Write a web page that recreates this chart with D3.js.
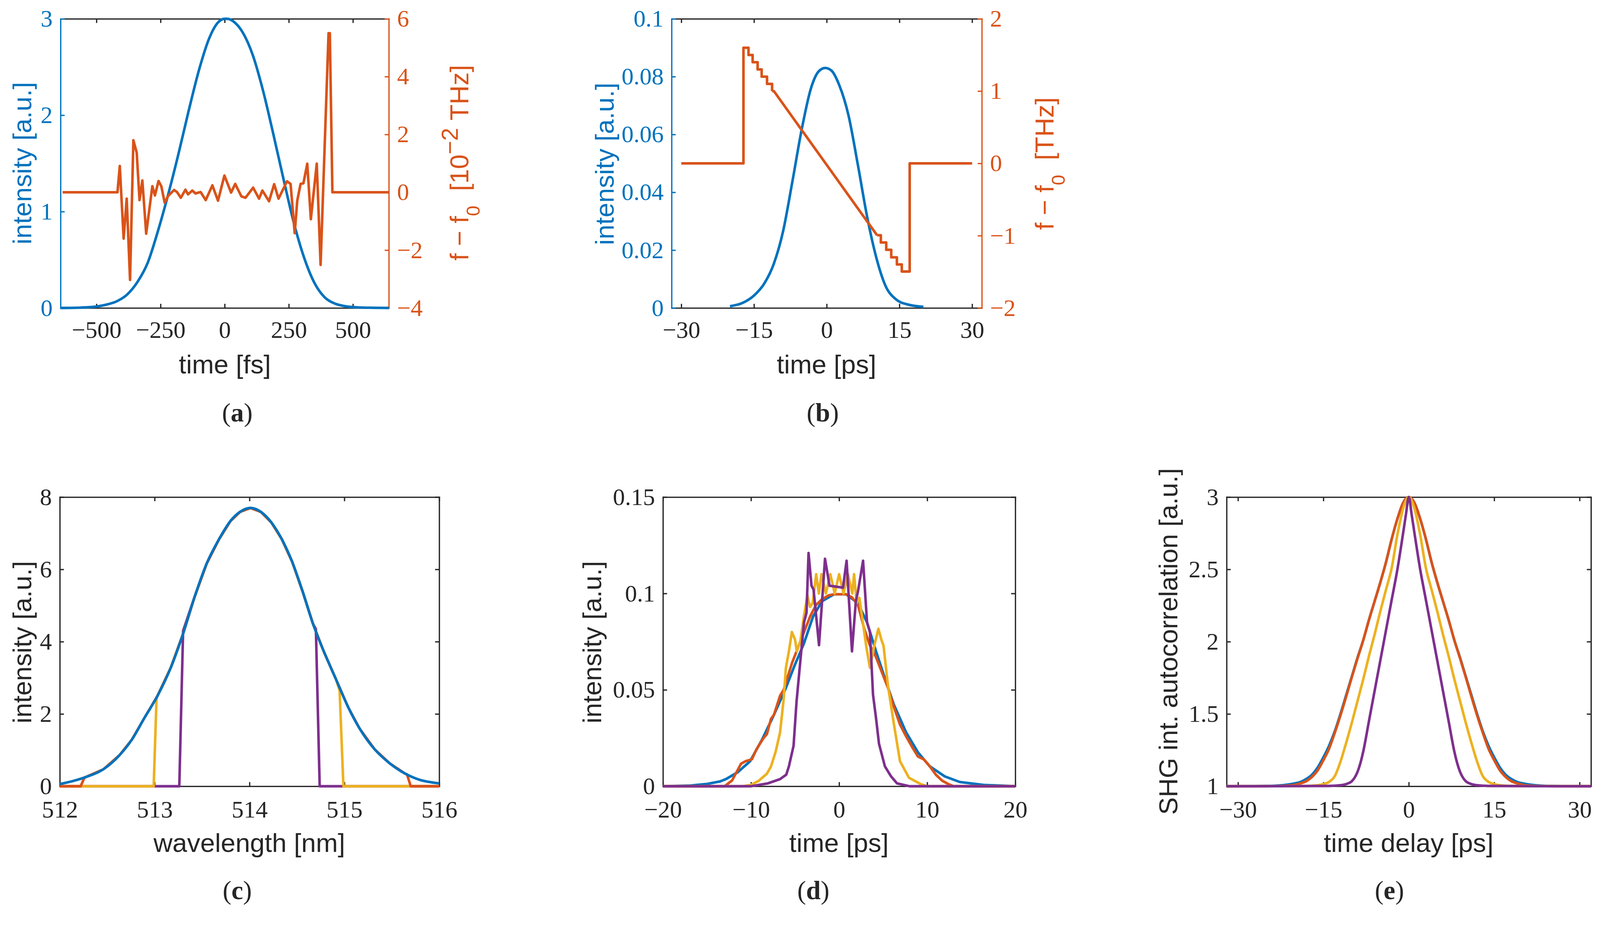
<!DOCTYPE html>
<html><head><meta charset="utf-8">
<script src="https://cdn.jsdelivr.net/npm/d3@7"></script>
<style>html,body{margin:0;padding:0;background:#fff;overflow:hidden;width:100%;height:100%}svg{display:block;width:100vw;height:100vh}</style>
</head><body>
<svg id="chart" viewBox="0 0 4255 2427" preserveAspectRatio="xMinYMin meet"></svg>
<script>
// ---------------- DATA ----------------
// (a) intensity [a.u.] vs time [fs]
const aIntensity = [[-640,0],[-560,0.004],[-500,0.015],[-460,0.035],[-420,0.07],[-380,0.14],[-340,0.27],[-300,0.47],[-260,0.80],[-220,1.18],[-180,1.60],[-140,2.05],[-100,2.47],[-60,2.80],[-30,2.95],[0,3.0],[10,3.0],[40,2.96],[70,2.86],[110,2.62],[150,2.25],[190,1.80],[230,1.33],[270,0.88],[310,0.52],[350,0.26],[390,0.11],[430,0.045],[470,0.018],[520,0.006],[580,0.002],[640,0]];
// (a) f - f0 [1e-2 THz]
const aFreq = [[-632,0],[-418,0],[-409,0.91],[-394,-1.6],[-382,-0.22],[-369,-3.03],[-356,1.8],[-343,1.37],[-332,-0.27],[-321,0.41],[-306,-1.43],[-282,0.21],[-272,-0.11],[-258,0.39],[-247,0.21],[-234,-0.36],[-220,-0.12],[-197,0.08],[-186,0.01],[-171,-0.19],[-153,0.09],[-143,-0.07],[-126,0.06],[-114,-0.04],[-94,0.01],[-74,-0.27],[-48,0.24],[-26,-0.29],[-1,0.58],[25,-0.01],[41,0.29],[65,-0.14],[81,-0.19],[111,0.16],[134,-0.22],[147,0.06],[173,-0.31],[193,0.28],[210,-0.22],[243,0.38],[257,0.29],[273,-1.41],[283,-0.29],[296,0.29],[307,0.31],[322,0.99],[336,-0.93],[359,0.99],[374,-2.51],[405,5.5],[410,5.5],[420,0],[640,0]];
const aXTicks = [-500,-250,0,250,500];
const aXLabels = ["−500","−250","0","250","500"];
const aYTicks = [0,1,2,3];
const aYLabels = ["0","1","2","3"];
const aY2Ticks = [-4,-2,0,2,4,6];
const aY2Labels = ["−4","−2","0","2","4","6"];

// (b) intensity vs time [ps]
const bIntensity = [[-19.96,0.0006],[-17.4,0.0017],[-14.8,0.0046],[-12.9,0.0084],[-10.95,0.0151],[-9.0,0.0265],[-7.08,0.0437],[-5.15,0.0618],[-3.22,0.0761],[-1.61,0.0819],[-0.32,0.0830],[0.97,0.0821],[2.58,0.0771],[4.5,0.0666],[6.44,0.0494],[8.37,0.0313],[10.3,0.0170],[12.2,0.0074],[14.2,0.0031],[16.7,0.0012],[19.96,0.0004]];
// (b) f - f0 [THz]: staircase, linear chirp, staircase
const bFreqStepsLeft = [[-30,0],[-17.17,1.60],[-16.13,1.50],[-15.28,1.40],[-14.25,1.30],[-13.42,1.20],[-12.31,1.10],[-11.27,1.00]];
const bFreqLinear = [[-11.27,1.00],[-10.9,1.00],[10.39,-0.994]];
const bFreqStepsRight = [[10.39,-0.994],[11.17,-1.094],[12.28,-1.195],[13.31,-1.299],[14.48,-1.398],[15.49,-1.496],[17.12,0],[30,0]];
const bXTicks = [-30,-15,0,15,30];
const bXLabels = ["−30","−15","0","15","30"];
const bYTicks = [0,0.02,0.04,0.06,0.08,0.1];
const bYLabels = ["0","0.02","0.04","0.06","0.08","0.1"];
const bY2Ticks = [-2,-1,0,1,2];
const bY2Labels = ["−2","−1","0","1","2"];

// (c) spectra vs wavelength [nm]
const cBlue = [[512.0,0.06],[512.16,0.16],[512.28,0.26],[512.46,0.47],[512.63,0.86],[512.76,1.29],[512.89,1.88],[513.03,2.5],[513.17,3.28],[513.30,4.22],[513.42,5.23],[513.55,6.17],[513.68,6.84],[513.80,7.34],[513.90,7.59],[514.01,7.70],[514.12,7.59],[514.23,7.30],[514.34,6.84],[514.45,6.21],[514.56,5.39],[514.67,4.49],[514.78,3.75],[514.91,2.97],[515.04,2.19],[515.16,1.6],[515.32,1.02],[515.48,0.63],[515.64,0.35],[515.79,0.18],[516.0,0.08]];
const cOrange = [[512.0,0],[512.22,0],[512.26,0.24],[512.46,0.47],[512.63,0.86],[512.76,1.29],[512.89,1.88],[513.03,2.5],[513.17,3.28],[513.30,4.22],[513.42,5.23],[513.55,6.17],[513.68,6.84],[513.80,7.34],[513.90,7.59],[514.01,7.70],[514.12,7.59],[514.23,7.30],[514.34,6.84],[514.45,6.21],[514.56,5.39],[514.67,4.49],[514.78,3.75],[514.91,2.97],[515.04,2.19],[515.16,1.6],[515.32,1.02],[515.48,0.63],[515.64,0.35],[515.66,0.33],[515.70,0],[516.0,0]];
const cYellow = [[512.0,0],[512.99,0],[513.02,2.45],[513.17,3.28],[513.30,4.22],[513.42,5.23],[513.55,6.17],[513.68,6.84],[513.80,7.34],[513.90,7.59],[514.01,7.70],[514.12,7.59],[514.23,7.30],[514.34,6.84],[514.45,6.21],[514.56,5.39],[514.67,4.49],[514.78,3.75],[514.91,2.97],[514.95,2.65],[514.99,0],[516.0,0]];
const cPurple = [[512.0,0],[513.26,0],[513.30,4.3],[513.42,5.23],[513.55,6.17],[513.68,6.84],[513.80,7.34],[513.90,7.59],[514.01,7.70],[514.12,7.59],[514.23,7.30],[514.34,6.84],[514.45,6.21],[514.56,5.39],[514.67,4.49],[514.70,4.35],[514.74,0],[516.0,0]];
const cXTicks = [512,513,514,515,516];
const cXLabels = ["512","513","514","515","516"];
const cYTicks = [0,2,4,6,8];
const cYLabels = ["0","2","4","6","8"];

// (d) intensity vs time [ps]
const dBlue = [[-20,0],[-17,0.0003],[-15,0.0012],[-13.5,0.0025],[-12.85,0.0037],[-11.5,0.0073],[-10.1,0.013],[-8.77,0.024],[-7.4,0.037],[-6.04,0.051],[-5.02,0.063],[-4.0,0.074],[-2.96,0.088],[-1.94,0.096],[-0.58,0.0996],[0.78,0.0996],[2.14,0.095],[3.17,0.085],[4.19,0.070],[5.2,0.056],[6.2,0.0425],[7.6,0.028],[8.95,0.0176],[10.3,0.0103],[12.0,0.0051],[13.7,0.0022],[16.4,0.0007],[20,0]];
const dOrange = [[-20,0],[-13.0,0],[-12.66,0.0012],[-12.15,0.003],[-11.13,0.0117],[-10.6,0.013],[-9.9,0.014],[-9.4,0.019],[-8.58,0.025],[-8.2,0.027],[-7.73,0.035],[-7.4,0.037],[-6.7,0.047],[-6.3,0.050],[-5.34,0.064],[-4.83,0.070],[-4.32,0.076],[-3.81,0.082],[-3.3,0.088],[-2.62,0.094],[-1.94,0.097],[-1.2,0.099],[-0.58,0.0996],[0.78,0.0996],[1.46,0.098],[2.14,0.094],[2.49,0.088],[2.83,0.082],[3.5,0.073],[4.19,0.067],[4.87,0.059],[5.55,0.051],[6.23,0.041],[6.91,0.032],[7.59,0.026],[8.27,0.0205],[8.95,0.0154],[9.63,0.0139],[10.3,0.0103],[11.0,0.0059],[11.7,0.0029],[12.36,0.0012],[13.0,0],[20,0]];
const dYellow = [[-20,0],[-11,0],[-10,0.0007],[-9.1,0.0029],[-8.2,0.0065],[-7.73,0.0103],[-7.2,0.018],[-6.7,0.028],[-6.3,0.045],[-6.04,0.0615],[-5.7,0.07],[-5.36,0.08],[-5.0,0.076],[-4.8,0.070],[-4.4,0.075],[-4.0,0.088],[-3.6,0.099],[-3.3,0.093],[-3.0,0.095],[-2.6,0.11],[-2.3,0.10],[-2.0,0.11],[-1.5,0.10],[-1.0,0.11],[-0.5,0.10],[0,0.11],[0.5,0.10],[1.0,0.11],[1.5,0.10],[1.7,0.11],[2.0,0.095],[2.3,0.0977],[2.7,0.085],[3.1,0.072],[3.5,0.0615],[4.0,0.073],[4.46,0.0817],[4.8,0.076],[5.04,0.073],[5.55,0.052],[6.23,0.032],[6.91,0.013],[7.93,0.0044],[9.3,0.001],[10,0],[20,0]];
const dPurple = [[-20,0],[-10,0],[-8.07,0.0015],[-6.7,0.0037],[-6.0,0.006],[-5.7,0.0103],[-5.17,0.021],[-4.83,0.044],[-4.32,0.069],[-3.98,0.085],[-3.7,0.09],[-3.47,0.121],[-3.13,0.104],[-2.9,0.102],[-2.28,0.0732],[-1.6,0.118],[-1.09,0.104],[0.44,0.103],[0.85,0.117],[1.46,0.070],[1.9,0.096],[2.14,0.101],[2.72,0.117],[3.17,0.085],[3.5,0.08],[3.85,0.0475],[4.2,0.035],[4.53,0.022],[5.2,0.0103],[5.9,0.0051],[6.57,0.0015],[8,0],[20,0]];
const dXTicks = [-20,-10,0,10,20];
const dXLabels = ["−20","−10","0","10","20"];
const dYTicks = [0,0.05,0.1,0.15];
const dYLabels = ["0","0.05","0.1","0.15"];

// (e) SHG intensity autocorrelation vs time delay [ps]
const eBlue = [[-32,1],[-25,1.002],[-22,1.008],[-20,1.02],[-19,1.03],[-18,1.05],[-17,1.08],[-16,1.13],[-15,1.2],[-14,1.28],[-13,1.38],[-12,1.5],[-11,1.63],[-10,1.76],[-9,1.89],[-8,2.01],[-7,2.15],[-6,2.28],[-5,2.41],[-4,2.55],[-3,2.71],[-2,2.85],[-1,2.96],[0,3],[1,2.96],[2,2.85],[3,2.71],[4,2.55],[5,2.41],[6,2.28],[7,2.15],[8,2.01],[9,1.89],[10,1.76],[11,1.63],[12,1.5],[13,1.38],[14,1.28],[15,1.2],[16,1.13],[17,1.08],[18,1.05],[19,1.03],[20,1.02],[22,1.008],[25,1.002],[32,1]];
const eOrange = [[-32,1],[-25,1.0],[-22,1.003],[-20,1.01],[-19,1.02],[-18,1.035],[-17,1.065],[-16,1.11],[-15,1.18],[-14,1.26],[-13,1.37],[-12,1.49],[-11,1.62],[-10,1.755],[-9,1.885],[-8,2.01],[-7,2.15],[-6,2.28],[-5,2.41],[-4,2.55],[-3,2.71],[-2,2.85],[-1,2.96],[0,3],[1,2.96],[2,2.85],[3,2.71],[4,2.55],[5,2.41],[6,2.28],[7,2.15],[8,2.01],[9,1.885],[10,1.755],[11,1.62],[12,1.49],[13,1.37],[14,1.26],[15,1.18],[16,1.11],[17,1.065],[18,1.035],[19,1.02],[20,1.01],[22,1.003],[25,1.0],[32,1]];
const eYellow = [[-32,1],[-18,1.002],[-16,1.007],[-15,1.015],[-14,1.03],[-13,1.07],[-12,1.17],[-11,1.3],[-10,1.44],[-9,1.59],[-8,1.74],[-7,1.9],[-6,2.05],[-5,2.21],[-4,2.36],[-3,2.51],[-2,2.74],[-1,2.92],[0,3],[1,2.92],[2,2.74],[3,2.51],[4,2.36],[5,2.21],[6,2.05],[7,1.9],[8,1.74],[9,1.59],[10,1.44],[11,1.3],[12,1.17],[13,1.07],[14,1.03],[15,1.015],[16,1.007],[18,1.002],[32,1]];
const ePurple = [[-32,1],[-14,1.002],[-12,1.007],[-11,1.015],[-10,1.035],[-9.5,1.06],[-9,1.1],[-8.5,1.16],[-8,1.24],[-7,1.45],[-6,1.66],[-5,1.87],[-4,2.08],[-3,2.29],[-2,2.5],[-1,2.75],[-0.5,2.88],[0,3],[0.5,2.88],[1,2.75],[2,2.5],[3,2.29],[4,2.08],[5,1.87],[6,1.66],[7,1.45],[8,1.24],[8.5,1.16],[9,1.1],[9.5,1.06],[10,1.035],[11,1.015],[12,1.007],[14,1.002],[32,1]];
const eXTicks = [-30,-15,0,15,30];
const eXLabels = ["−30","−15","0","15","30"];
const eYTicks = [1,1.5,2,2.5,3];
const eYLabels = ["1","1.5","2","2.5","3"];

// ---------------- STYLE ----------------
const C = {blue:"#0072BD", orange:"#D95319", yellow:"#EDB120", purple:"#7E2F8E", axis:"#262626"};
const TICK_FONT = "'Liberation Serif','Times New Roman',serif";
const CAP_FONT = "'Liberation Serif',serif";
const LABEL_FONT = "'Liberation Sans',Arial,sans-serif";
const TICK_SIZE = 64, LABEL_SIZE = 70, CAP_SIZE = 70;
const AX_W = 3.4, LINE_W = 6.8, TICK_LEN = 11;
const NB = "\u00A0";

const svg = d3.select("#chart");

function styleAxis(sel, color, fontColor) {
  sel.attr("font-family", null).attr("font-size", null);
  sel.select(".domain").attr("stroke", color).attr("stroke-width", AX_W).attr("stroke-linecap", "square");
  sel.selectAll(".tick line").attr("stroke", color).attr("stroke-width", AX_W);
  sel.selectAll(".tick text").attr("fill", fontColor || color)
     .attr("font-family", TICK_FONT).attr("font-size", TICK_SIZE);
}

function addText(g, x, y, parts, opts) {
  const t = g.append("text")
    .attr("font-family", opts.font || LABEL_FONT)
    .attr("font-size", opts.size || LABEL_SIZE)
    .attr("fill", opts.color || C.axis)
    .attr("text-anchor", "middle");
  if (opts.rotate) t.attr("transform", `translate(${x},${y}) rotate(-90)`);
  else t.attr("x", x).attr("y", y);
  parts.forEach(p => {
    const s = t.append("tspan").text(p.t);
    if (p.dy) s.attr("dy", p.dy);
    if (p.size) s.attr("font-size", p.size);
    if (p.bold) s.attr("font-weight", "bold");
  });
  return t;
}

function drawPanel(p) {
  const g = svg.append("g");
  const b = p.box;
  const x = d3.scaleLinear().domain(p.xDomain).range([b.left, b.right]);
  const y = d3.scaleLinear().domain(p.yDomain).range([b.bottom, b.top]);
  const y2 = p.y2Domain ? d3.scaleLinear().domain(p.y2Domain).range([b.bottom, b.top]) : null;
  const lab = arr => (d, i) => arr[i];

  g.append("g").attr("transform", `translate(0,${b.top})`)
    .call(d3.axisTop(x).tickValues(p.xTicks).tickFormat(() => "").tickSizeInner(-TICK_LEN).tickSizeOuter(0))
    .call(s => styleAxis(s, C.axis));
  g.append("g").attr("transform", `translate(0,${b.bottom})`)
    .call(d3.axisBottom(x).tickValues(p.xTicks).tickFormat(lab(p.xLabels)).tickSizeInner(-TICK_LEN).tickSizeOuter(0).tickPadding(p.xPad))
    .call(s => styleAxis(s, C.axis));
  if (y2) {
    g.append("g").attr("transform", `translate(${b.right},0)`)
      .call(d3.axisRight(y2).tickValues(p.y2Ticks).tickFormat(lab(p.y2Labels)).tickSizeInner(-TICK_LEN).tickSizeOuter(0).tickPadding(22))
      .call(s => styleAxis(s, C.orange));
  } else {
    g.append("g").attr("transform", `translate(${b.right},0)`)
      .call(d3.axisRight(y).tickValues(p.yTicks).tickFormat(() => "").tickSizeInner(-TICK_LEN).tickSizeOuter(0))
      .call(s => styleAxis(s, C.axis));
  }
  g.append("g").attr("transform", `translate(${b.left},0)`)
    .call(d3.axisLeft(y).tickValues(p.yTicks).tickFormat(lab(p.yLabels)).tickSizeInner(-TICK_LEN).tickSizeOuter(0).tickPadding(21))
    .call(s => styleAxis(s, p.leftColor || C.axis));

  p.series.forEach(s => {
    const ys = s.right ? y2 : y;
    const line = d3.line().x(d => x(d[0])).y(d => ys(d[1])).curve(s.curve || d3.curveLinear);
    g.append("path").datum(s.data)
      .attr("d", line).attr("fill", "none").attr("stroke", s.color)
      .attr("stroke-width", LINE_W).attr("stroke-linejoin", "round").attr("stroke-linecap", "butt");
  });

  addText(g, p.xLabel.x, p.xLabel.y, [{t: p.xLabel.text}], {});
  addText(g, p.yLabel.x, p.yLabel.y, p.yLabel.parts, {rotate: true, color: p.leftColor || C.axis});
  if (p.y2Label) addText(g, p.y2Label.x, p.y2Label.y, p.y2Label.parts, {rotate: true, color: C.orange});
  addText(g, p.caption.x, p.caption.y, [{t: "("}, {t: p.caption.letter, bold: true}, {t: ")"}],
    {font: CAP_FONT, size: CAP_SIZE});
}

const smooth = d3.curveMonotoneX;

drawPanel({
  box: {left:161, right:1034, top:50, bottom:819},
  xDomain: [-640, 640], yDomain: [0, 3], y2Domain: [-4, 6],
  xTicks: aXTicks, xLabels: aXLabels, yTicks: aYTicks, yLabels: aYLabels,
  y2Ticks: aY2Ticks, y2Labels: aY2Labels, xPad: 34, leftColor: C.blue,
  series: [
    {data: aIntensity, color: C.blue, curve: smooth},
    {data: aFreq, color: C.orange, right: true}
  ],
  xLabel: {x: 598, y: 993, text: "time [fs]"},
  yLabel: {x: 83, y: 434, parts: [{t: "intensity [a.u.]"}]},
  y2Label: {x: 1246, y: 433, parts: [{t: "f − f"}, {t: "0", dy: 30, size: 50}, {t: NB + NB + "[10", dy: -30}, {t: "−2", dy: -28, size: 62}, {t: NB + "THz]", dy: 28}]},
  caption: {x: 631, y: 1121, letter: "a"}
});

drawPanel({
  box: {left:1786, right:2611, top:50, bottom:819},
  xDomain: [-32, 32], yDomain: [0, 0.1], y2Domain: [-2, 2],
  xTicks: bXTicks, xLabels: bXLabels, yTicks: bYTicks, yLabels: bYLabels,
  y2Ticks: bY2Ticks, y2Labels: bY2Labels, xPad: 34, leftColor: C.blue,
  series: [
    {data: bIntensity, color: C.blue, curve: smooth},
    {data: bFreqStepsLeft, color: C.orange, right: true, curve: d3.curveStepAfter},
    {data: bFreqLinear, color: C.orange, right: true},
    {data: bFreqStepsRight, color: C.orange, right: true, curve: d3.curveStepAfter}
  ],
  xLabel: {x: 2198, y: 993, text: "time [ps]"},
  yLabel: {x: 1632, y: 436, parts: [{t: "intensity [a.u.]"}]},
  y2Label: {x: 2802, y: 435, parts: [{t: "f − f"}, {t: "0", dy: 30, size: 50}, {t: NB + NB + "[THz]", dy: -30}]},
  caption: {x: 2188, y: 1121, letter: "b"}
});

drawPanel({
  box: {left:159, right:1168, top:1322, bottom:2091},
  xDomain: [512, 516], yDomain: [0, 8],
  xTicks: cXTicks, xLabels: cXLabels, yTicks: cYTicks, yLabels: cYLabels, xPad: 38,
  series: [
    {data: cPurple, color: C.purple},
    {data: cYellow, color: C.yellow},
    {data: cOrange, color: C.orange},
    {data: cBlue, color: C.blue, curve: smooth}
  ],
  xLabel: {x: 663, y: 2266, text: "wavelength [nm]"},
  yLabel: {x: 83, y: 1708, parts: [{t: "intensity [a.u.]"}]},
  caption: {x: 631, y: 2391, letter: "c"}
});

drawPanel({
  box: {left:1763, right:2700, top:1322, bottom:2091},
  xDomain: [-20, 20], yDomain: [0, 0.15],
  xTicks: dXTicks, xLabels: dXLabels, yTicks: dYTicks, yLabels: dYLabels, xPad: 38,
  series: [
    {data: dBlue, color: C.blue},
    {data: dOrange, color: C.orange},
    {data: dYellow, color: C.yellow},
    {data: dPurple, color: C.purple}
  ],
  xLabel: {x: 2231, y: 2266, text: "time [ps]"},
  yLabel: {x: 1599, y: 1708, parts: [{t: "intensity [a.u.]"}]},
  caption: {x: 2163, y: 2391, letter: "d"}
});

drawPanel({
  box: {left:3262, right:4231, top:1322, bottom:2091},
  xDomain: [-32, 32], yDomain: [1, 3],
  xTicks: eXTicks, xLabels: eXLabels, yTicks: eYTicks, yLabels: eYLabels, xPad: 38,
  series: [
    {data: eBlue, color: C.blue, curve: smooth},
    {data: eOrange, color: C.orange, curve: smooth},
    {data: eYellow, color: C.yellow, curve: smooth},
    {data: ePurple, color: C.purple, curve: smooth}
  ],
  xLabel: {x: 3746, y: 2266, text: "time delay [ps]"},
  yLabel: {x: 3131, y: 1706, parts: [{t: "SHG int. autocorrelation [a.u.]"}]},
  caption: {x: 3695, y: 2391, letter: "e"}
});
</script>
</body></html>
